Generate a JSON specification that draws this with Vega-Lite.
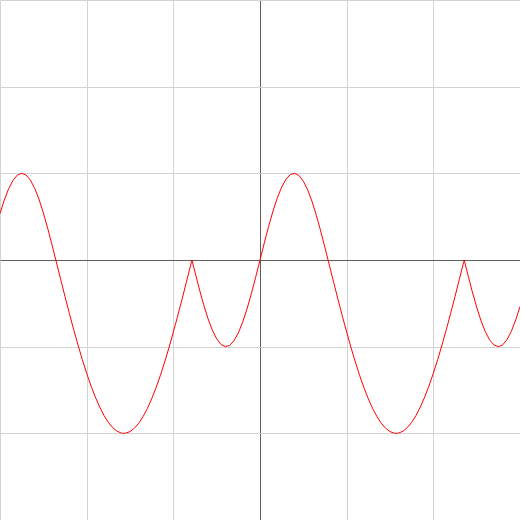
{
  "$schema": "https://vega.github.io/schema/vega-lite/v6.json",
  "width": 520,
  "height": 520,
  "padding": 0,
  "autosize": "none",
  "background": "white",
  "config": {"view": {"stroke": null}},
  "data": {"values": [
    {"x": -3.00, "y": 0.537}, {"x": -2.95, "y": 0.693}, {"x": -2.90, "y": 0.823}, {"x": -2.85, "y": 0.919},
    {"x": -2.80, "y": 0.979}, {"x": -2.75, "y": 1.000}, {"x": -2.70, "y": 0.981}, {"x": -2.65, "y": 0.923},
    {"x": -2.60, "y": 0.828}, {"x": -2.55, "y": 0.701}, {"x": -2.50, "y": 0.544}, {"x": -2.45, "y": 0.367},
    {"x": -2.40, "y": 0.174}, {"x": -2.356, "y": 0.0}, {"x": -2.30, "y": -0.224}, {"x": -2.25, "y": -0.422},
    {"x": -2.20, "y": -0.615}, {"x": -2.15, "y": -0.802}, {"x": -2.10, "y": -0.981}, {"x": -2.05, "y": -1.150},
    {"x": -2.00, "y": -1.307}, {"x": -1.95, "y": -1.452}, {"x": -1.90, "y": -1.582}, {"x": -1.85, "y": -1.696},
    {"x": -1.80, "y": -1.794}, {"x": -1.75, "y": -1.873}, {"x": -1.70, "y": -1.934}, {"x": -1.65, "y": -1.975},
    {"x": -1.60, "y": -1.997}, {"x": -1.571, "y": -2.0}, {"x": -1.55, "y": -1.998}, {"x": -1.50, "y": -1.980},
    {"x": -1.45, "y": -1.942}, {"x": -1.40, "y": -1.884}, {"x": -1.35, "y": -1.808}, {"x": -1.30, "y": -1.714},
    {"x": -1.25, "y": -1.602}, {"x": -1.20, "y": -1.475}, {"x": -1.15, "y": -1.333}, {"x": -1.10, "y": -1.177},
    {"x": -1.05, "y": -1.010}, {"x": -1.00, "y": -0.832}, {"x": -0.95, "y": -0.647}, {"x": -0.90, "y": -0.454},
    {"x": -0.85, "y": -0.258}, {"x": -0.80, "y": -0.058}, {"x": -0.785, "y": 0.0}, {"x": -0.75, "y": -0.141},
    {"x": -0.70, "y": -0.335}, {"x": -0.65, "y": -0.516}, {"x": -0.60, "y": -0.676}, {"x": -0.55, "y": -0.809},
    {"x": -0.50, "y": -0.909}, {"x": -0.45, "y": -0.974}, {"x": -0.40, "y": -1.000}, {"x": -0.35, "y": -0.985},
    {"x": -0.30, "y": -0.932}, {"x": -0.25, "y": -0.842}, {"x": -0.20, "y": -0.717}, {"x": -0.15, "y": -0.565},
    {"x": -0.10, "y": -0.389}, {"x": -0.05, "y": -0.199}, {"x": 0.00, "y": 0.0}, {"x": 0.05, "y": 0.199},
    {"x": 0.10, "y": 0.389}, {"x": 0.15, "y": 0.565}, {"x": 0.20, "y": 0.717}, {"x": 0.25, "y": 0.842},
    {"x": 0.30, "y": 0.932}, {"x": 0.35, "y": 0.985}, {"x": 0.40, "y": 1.000}, {"x": 0.45, "y": 0.974},
    {"x": 0.50, "y": 0.909}, {"x": 0.55, "y": 0.809}, {"x": 0.60, "y": 0.676}, {"x": 0.65, "y": 0.516},
    {"x": 0.70, "y": 0.335}, {"x": 0.75, "y": 0.141}, {"x": 0.785, "y": 0.0}, {"x": 0.80, "y": -0.058},
    {"x": 0.85, "y": -0.258}, {"x": 0.90, "y": -0.454}, {"x": 0.95, "y": -0.647}, {"x": 1.00, "y": -0.832},
    {"x": 1.05, "y": -1.010}, {"x": 1.10, "y": -1.177}, {"x": 1.15, "y": -1.333}, {"x": 1.20, "y": -1.475},
    {"x": 1.25, "y": -1.602}, {"x": 1.30, "y": -1.714}, {"x": 1.35, "y": -1.808}, {"x": 1.40, "y": -1.884},
    {"x": 1.45, "y": -1.942}, {"x": 1.50, "y": -1.980}, {"x": 1.55, "y": -1.998}, {"x": 1.571, "y": -2.0},
    {"x": 1.60, "y": -1.997}, {"x": 1.65, "y": -1.975}, {"x": 1.70, "y": -1.934}, {"x": 1.75, "y": -1.873},
    {"x": 1.80, "y": -1.794}, {"x": 1.85, "y": -1.696}, {"x": 1.90, "y": -1.582}, {"x": 1.95, "y": -1.452},
    {"x": 2.00, "y": -1.307}, {"x": 2.05, "y": -1.150}, {"x": 2.10, "y": -0.981}, {"x": 2.15, "y": -0.802},
    {"x": 2.20, "y": -0.615}, {"x": 2.25, "y": -0.422}, {"x": 2.30, "y": -0.224}, {"x": 2.35, "y": -0.025},
    {"x": 2.356, "y": 0.0}, {"x": 2.40, "y": -0.174}, {"x": 2.45, "y": -0.367}, {"x": 2.50, "y": -0.544},
    {"x": 2.55, "y": -0.701}, {"x": 2.60, "y": -0.828}, {"x": 2.65, "y": -0.923}, {"x": 2.70, "y": -0.981},
    {"x": 2.75, "y": -1.000}, {"x": 2.80, "y": -0.979}, {"x": 2.85, "y": -0.919}, {"x": 2.90, "y": -0.823},
    {"x": 2.95, "y": -0.693}, {"x": 3.00, "y": -0.537}
  ]},
  "mark": {"type": "line", "color": "#ff0000", "strokeWidth": 1, "interpolate": "linear"},
  "encoding": {
    "x": {
      "field": "x", "type": "quantitative",
      "scale": {"domain": [-3, 3], "nice": false, "zero": false},
      "axis": {"values": [-3, -2, -1, 0, 1, 2, 3], "grid": true,
               "gridColor": {"condition": {"test": "datum.value === 0", "value": "#5e5e5e"}, "value": "#d3d3d3"},
               "gridOpacity": 1, "labels": false, "ticks": false, "domain": false, "title": null}
    },
    "y": {
      "field": "y", "type": "quantitative",
      "scale": {"domain": [-3, 3], "nice": false, "zero": false},
      "axis": {"values": [-3, -2, -1, 0, 1, 2, 3], "grid": true,
               "gridColor": {"condition": {"test": "datum.value === 0", "value": "#5e5e5e"}, "value": "#d3d3d3"},
               "gridOpacity": 1, "labels": false, "ticks": false, "domain": false, "title": null}
    }
  }
}
